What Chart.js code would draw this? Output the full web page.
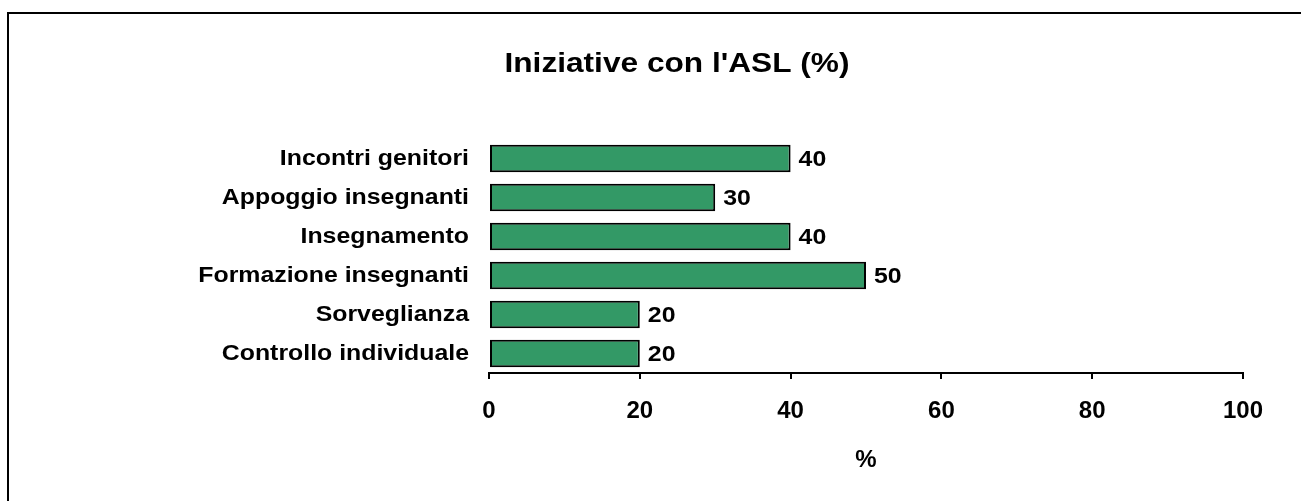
<!DOCTYPE html>
<html>
<head>
<meta charset="utf-8">
<script src="https://cdn.jsdelivr.net/npm/chart.js@4"></script>
<style>
  html, body { margin: 0; padding: 0; background: #fff; }
  canvas { display: block; }
</style>
</head>
<body>
<canvas id="asl" width="1301" height="501"></canvas>
<script>
const categories = ['Incontri genitori', 'Appoggio insegnanti', 'Insegnamento', 'Formazione insegnanti', 'Sorveglianza', 'Controllo individuale'];
const values = [40, 30, 40, 50, 20, 20];
const xTicks = [0, 20, 40, 60, 80, 100];

const FONT = "'Liberation Sans', Arial, sans-serif";
const STRETCH = 1.13; // labels/title in the original are wider than plain Arial

const canvas = document.getElementById('asl');
const c2d = canvas.getContext('2d');
const baseFill = c2d.fillText.bind(c2d);
c2d.fillText = function (text, x, y, maxWidth) {
    // the 24px axis numbers are not stretched
    const s = / 24px /.test(this.font) ? 1 : STRETCH
    this.save()
    this.translate(x, y)
    this.scale(s, 1)
    if (maxWidth === undefined) baseFill(text, 0, 0)
    else baseFill(text, 0, 0, maxWidth / s)
    this.restore()
}

// outer frame, only top and left edges show in the picture
const frame = {
    id: 'frame',
    beforeDraw(chart) {
        const { ctx, width, height } = chart
        ctx.save()
        ctx.strokeStyle = '#000'
        ctx.lineWidth = 2
        ctx.beginPath()
        ctx.moveTo(8, height + 5)
        ctx.lineTo(8, 13)
        ctx.lineTo(width + 5, 13)
        ctx.stroke()
        ctx.restore()
    }
}

// value next to each bar
const valueLabels = {
    id: 'valueLabels',
    afterDatasetsDraw(chart) {
        const { ctx } = chart
        ctx.save()
        ctx.font = 'bold 22px ' + FONT
        ctx.fillStyle = '#000'
        ctx.textAlign = 'left'
        ctx.textBaseline = 'middle'
        chart.getDatasetMeta(0).data.forEach((bar, i) => {
            ctx.fillText(values[i], bar.x + 8, bar.y + 1)
        })
        ctx.restore()
    }
}

new Chart(canvas, {
    type: 'bar',
    data: {
        labels: categories,
        datasets: [{
            data: values,
            backgroundColor: '#339966',
            borderColor: '#000',
            borderWidth: 2,
            borderSkipped: false,
            barPercentage: 0.71,
            categoryPercentage: 1
        }]
    },
    options: {
        indexAxis: 'y',
        responsive: false,
        animation: false,
        layout: { padding: { left: 111, right: 58, top: 0, bottom: 0 } },
        plugins: {
            legend: { display: false },
            tooltip: { enabled: false },
            title: {
                display: true,
                text: "Iniziative con l'ASL (%)",
                color: '#000',
                font: { family: FONT, size: 28, weight: 'bold', lineHeight: 1.2 },
                padding: { top: 47, bottom: 58.4 }
            }
        },
        scales: {
            x: {
                min: 0,
                max: 100,
                afterBuildTicks(axis) { axis.ticks = xTicks.map(v => ({ value: v })) },
                afterFit(axis) { axis.height = 128 },
                border: { display: true, color: '#000', width: 2 },
                grid: { drawOnChartArea: false, drawTicks: true, tickLength: 6, color: '#000', lineWidth: 2 },
                ticks: { color: '#000', padding: 17.6, font: { family: FONT, size: 24, weight: 'bold', lineHeight: 1.2 } },
                title: {
                    display: true,
                    text: '%',
                    color: '#000',
                    font: { family: FONT, size: 24, weight: 'bold', lineHeight: 1.2 },
                    padding: { top: 0, bottom: 26.6 }
                }
            },
            y: {
                afterFit(axis) { axis.width = 378 },
                border: { display: false },
                grid: { display: false },
                ticks: { color: '#000', padding: 12, font: { family: FONT, size: 22, weight: 'bold' } }
            }
        }
    },
    plugins: [frame, valueLabels]
});
</script>
</body>
</html>
